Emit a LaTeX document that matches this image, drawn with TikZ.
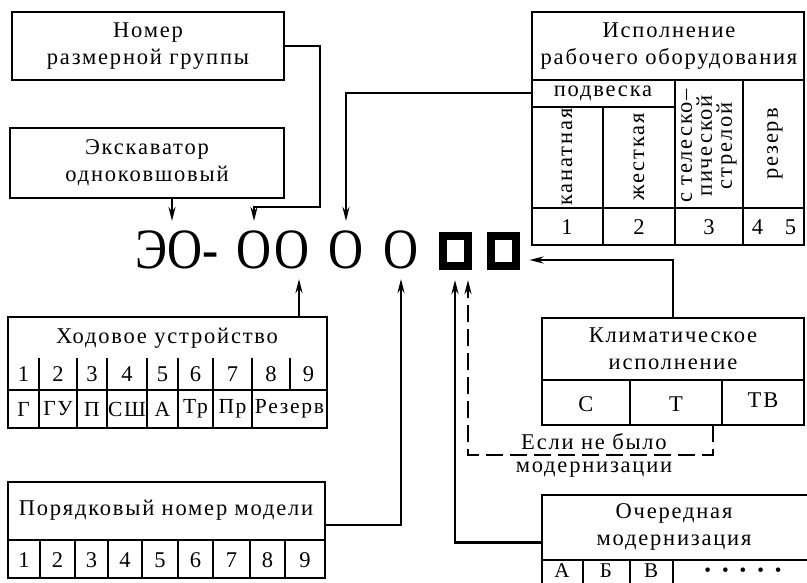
\documentclass[tikz,border=0pt]{standalone}
\usepackage{fontspec}
\setmainfont{Liberation Serif}[LetterSpace=8]
\newfontfamily\codefont{Liberation Serif}[FakeStretch=0.85]
\usetikzlibrary{arrows.meta, calc}

\begin{document}
\begin{tikzpicture}[x=1pt, y=-1pt,
    box/.style={draw, line width=2.4pt, inner sep=0pt},
    grid/.style={line width=1.8pt},
    conn/.style={line width=2.8pt, -{Stealth[length=14pt, width=7pt]}},
    lbl/.style={font=\fontsize{22.5}{27}\selectfont, align=center, inner sep=0pt},
    code/.style={font=\codefont\fontsize{57}{57}\selectfont, inner sep=0pt, text height=38pt, text depth=0pt, outer sep=10pt},
    sq/.style={draw, line width=8pt, minimum width=25pt, minimum height=30pt, inner sep=0pt, outer sep=14pt}]
    \useasboundingbox (0,0) rectangle (807,583);

    % designation
    \node[code] (eo) at (177,250) {ЭО-};
    \node[code] (oA) at (254,250) {О};
    \node[code] (oB) at (292,250) {О};
    \node[code] (oC) at (346,250) {О};
    \node[code] (oD) at (401,250) {О};
    \node[sq] (sq1) at (455,251) {};
    \node[sq] (sq2) at (503,251) {};

    % top left boxes
    \node[box, lbl, minimum width=272pt, minimum height=68pt] (razm) at (148,46) {Номер\\размерной группы};
    \node[box, lbl, minimum width=274pt, minimum height=70pt] (exc) at (147,163) {Экскаватор\\одноковшовый};

    % working equipment table
    \node[box, minimum width=272pt, minimum height=233pt] (isp) at (668,128.5) {};
    \node[lbl] (ispt) at (669,46) {Исполнение\\рабочего оборудования};
    \draw[grid] (532,80) -- (804,80) (532,107) -- (675,107) (532,208) -- (804,208);
    \draw[grid] (603,107) -- (603,245) (675,80) -- (675,245) (743,80) -- (743,245);
    \node[lbl] (podv) at (603,93) {подвеска};
    \node[lbl, rotate=90] (kan) at (567,157) {канатная};
    \node[lbl, rotate=90] (zh) at (639,157) {жесткая};
    \node[lbl, rotate=90, font=\fontsize{22.5}{20}\selectfont] (tel) at (709,146) {с телеско–\\пической\\стрелой};
    \node[lbl, rotate=90] (rez) at (775,144) {резерв};
    \foreach \n/\x in {1/567, 2/639, 3/709}
        \node[lbl] (in\n) at (\x,227) {\n};
    \node[lbl] (in4) at (774,227) {4\hspace{22pt}5};

    % running gear
    \node[box, minimum width=319pt, minimum height=111pt] (hod) at (167.5,372.5) {};
    \node[lbl] (hodt) at (167,338) {Ходовое устройство};
    \draw[grid] (8,390) -- (327,390);
    \foreach \x in {39,77,107,147,178,213,252}
        \draw[grid] (\x,358) -- (\x,428);
    \draw[grid] (290,358) -- (290,390);
    \foreach \n/\x in {1/23.5, 2/58, 3/92, 4/127, 5/162.5, 6/195.5, 7/232.5, 8/271, 9/308.5}
        \node[lbl] (hn\n) at (\x,374) {\n};
    \foreach \t/\x [count=\i] in {Г/23.5, ГУ/58, П/92, СШ/127, А/162.5, Тр/195.5, Пр/232.5, Резерв/289.5}
        \node[lbl, font=\fontsize{21.5}{26}\selectfont] (hl\i) at (\x,409) {\t};

    % model number
    \node[box, minimum width=317pt, minimum height=96pt] (por) at (166.5,530) {};
    \node[lbl] (port) at (166,510) {Порядковый номер модели};
    \draw[grid] (8,540) -- (325,540);
    \foreach \x in {40,75,108,142,178,213,250,285}
        \draw[grid] (\x,540) -- (\x,578);
    \foreach \n/\x in {1/24, 2/57.5, 3/91.5, 4/125, 5/160, 6/195.5, 7/231.5, 8/267.5, 9/305}
        \node[lbl] (pn\n) at (\x,560) {\n};

    % climate
    \node[box, minimum width=262pt, minimum height=107pt] (klim) at (673,371.5) {};
    \node[lbl] (klimt) at (673,349) {Климатическое\\исполнение};
    \draw[grid] (542,380) -- (804,380) (630,380) -- (630,425) (722,380) -- (722,425);
    \node[lbl] (kc) at (586,404) {С};
    \node[lbl] (kt) at (676,404) {Т};
    \node[lbl] (ktv) at (763,400) {ТВ};

    % modernisation
    \node[box, minimum width=270pt, minimum height=95pt] (och) at (677,542.5) {};
    \node[lbl] (ocht) at (674,527) {Очередная\\модернизация};
    \draw[grid] (542,560) -- (812,560);
    \foreach \x in {583,630,673}
        \draw[grid] (\x,560) -- (\x,590);
    \node[lbl, font=\fontsize{21}{21}\selectfont] (oa) at (562,570.5) {А};
    \node[lbl, font=\fontsize{21}{21}\selectfont] (ob) at (606,570.5) {Б};
    \node[lbl, font=\fontsize{21}{21}\selectfont] (ov) at (651,570.5) {В};
    \node[lbl, font=\fontsize{19}{19}\selectfont] (odots) at (743,572) {•\hspace{11pt}•\hspace{11pt}•\hspace{11pt}•\hspace{11pt}•};

    % connectors
    \coordinate (bB) at ([xshift=7pt]oB.south);
    \coordinate (bS) at ([xshift=13pt]sq1.south);
    \coordinate (dstart) at (713,425);
    \draw[conn] (razm.east) -| (320,207) -| (oA.north);
    \draw[conn] (exc.south -| 172,0) -- (eo.north -| 172,0);
    \draw[conn] (isp.west |- podv) -| (oC.north);
    \draw[conn] (hod.north -| bB) -- (bB);
    \draw[conn] ([yshift=5pt]por.east) -| (oD.south);
    \draw[conn] (och.west) -| (sq1.south);
    \draw[conn] (klim.north) |- ([yshift=-9pt]sq2.east);
    \draw[conn, dash pattern=on 17pt off 7pt] (dstart) -- (713,455) -| (bS);
    \node[lbl] (esli) at (594,442) {Если не было};
    \node[lbl] (modr) at (594,470) {модернизации};
\end{tikzpicture}
\end{document}
